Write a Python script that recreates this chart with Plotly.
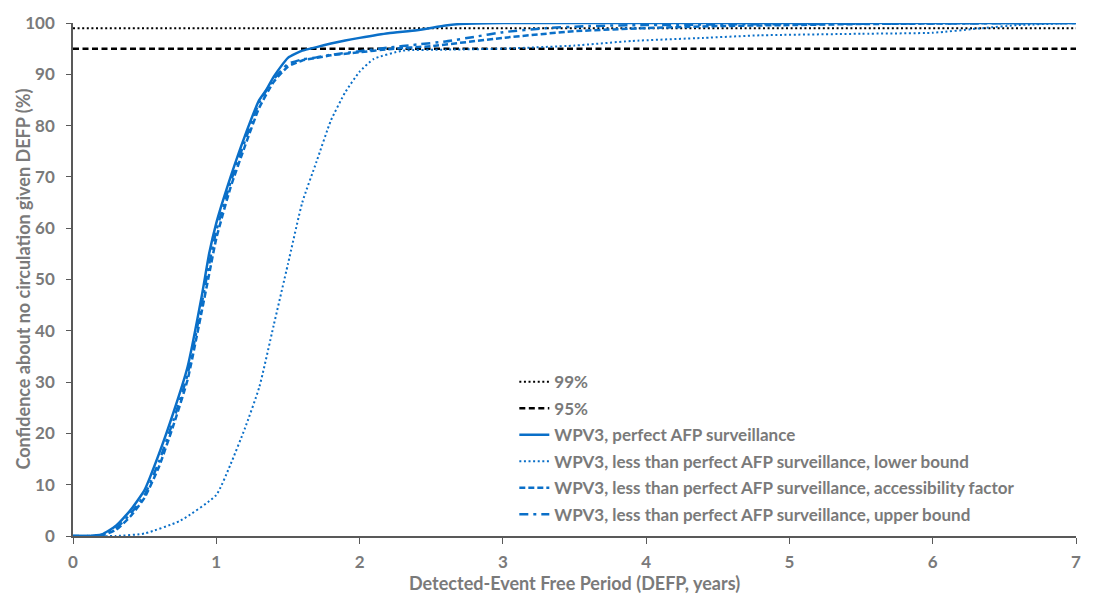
import plotly.graph_objects as go

# ---------------- data ----------------
ref_x = [0, 7]
ref99 = [99, 99]
ref95 = [95, 95]

perfect_x = [0, 0.1, 0.2, 0.3, 0.4, 0.5, 0.6, 0.7, 0.8, 0.9, 0.95, 1.0, 1.1, 1.2, 1.3, 1.35, 1.4,
             1.5, 1.6, 1.7, 1.8, 1.9, 2.0, 2.2, 2.4, 2.6, 2.7, 3, 4, 5, 6, 7]
perfect_y = [0, 0, 0.3, 2, 5, 9, 16, 24, 33, 47, 55, 61, 70, 78, 85, 87, 89.5,
             93.2, 94.6, 95.3, 96, 96.6, 97.1, 98, 98.6, 99.5, 99.8, 100, 100, 100, 100, 100]

lower_x = [0, 0.3, 0.5, 0.75, 1.0, 1.1, 1.2, 1.3, 1.4, 1.5, 1.6, 1.7, 1.8, 1.9, 2.0, 2.1,
           2.3, 2.6, 3.0, 3.5, 3.9, 4.4, 4.8, 5.5, 6.0, 6.35, 6.6, 7]
lower_y = [0, 0, 0.5, 3, 8, 14, 21, 29, 41, 53, 65, 73, 81, 86.5, 90.5, 93,
           94.6, 94.8, 95, 95.6, 96.5, 97.1, 97.6, 97.9, 98.1, 99, 99.6, 100]

access_x = [0, 0.1, 0.2, 0.3, 0.4, 0.5, 0.6, 0.7, 0.8, 0.9, 0.95, 1.0, 1.1, 1.2, 1.3, 1.4, 1.5,
            1.6, 1.7, 1.8, 2.0, 2.2, 2.5, 3.0, 3.5, 4.0, 4.5, 5.0, 5.5, 6.0, 6.5, 7]
access_y = [0, 0, 0.1, 1.2, 3.8, 7.5, 13.5, 21.5, 30.5, 44, 51, 58, 68, 76, 83.5, 88.5, 91.5,
            92.7, 93.2, 93.7, 94.3, 94.9, 95.5, 97.1, 98.4, 99.0, 99.4, 99.6, 99.8, 99.9, 100, 100]

upper_x = [0, 0.1, 0.2, 0.3, 0.4, 0.5, 0.6, 0.7, 0.8, 0.9, 0.95, 1.0, 1.1, 1.2, 1.3, 1.4, 1.5,
           1.6, 1.7, 1.8, 2.0, 2.2, 2.4, 2.6, 2.8, 3.0, 3.3, 3.6, 4.0, 5.0, 6.0, 7]
upper_y = [0, 0, 0.2, 1.5, 4.3, 8, 14.5, 22.5, 31.5, 45.5, 53, 59.5, 69, 77, 84.5, 89, 92,
           92.9, 93.3, 93.8, 94.5, 95.2, 95.8, 96.4, 97.3, 98.2, 99, 99.4, 99.6, 99.8, 99.9, 100]

x_ticks = [0, 1, 2, 3, 4, 5, 6, 7]
y_ticks = [0, 10, 20, 30, 40, 50, 60, 70, 80, 90, 100]

names = ["99%", "95%", "WPV3, perfect AFP surveillance",
         "WPV3, less than perfect AFP surveillance, lower bound",
         "WPV3, less than perfect AFP surveillance, accessibility factor",
         "WPV3, less than perfect AFP surveillance, upper bound"]
x_title = "Detected-Event Free Period (DEFP, years)"
y_title = "Confidence about no circulation given DEFP (%)"

# ---------------- style ----------------
BLUE = "#0A6FC8"
GRAY = "#7A7A7A"
FONT = "Lato"

fig = go.Figure()
fig.add_trace(go.Scatter(x=ref_x, y=ref99, mode="lines", name=names[0], legendgroup="a",
                         line=dict(color="black", width=2, dash="2px,2.6px")))
fig.add_trace(go.Scatter(x=ref_x, y=ref95, mode="lines", name=names[1], legendgroup="b",
                         line=dict(color="black", width=2.5, dash="6px,3.5px")))
fig.add_trace(go.Scatter(x=perfect_x, y=perfect_y, mode="lines", name=names[2], legendgroup="c",
                         line=dict(color=BLUE, width=2.5, shape="spline", smoothing=0.5)))
fig.add_trace(go.Scatter(x=lower_x, y=lower_y, mode="lines", name=names[3], legendgroup="d",
                         line=dict(color=BLUE, width=2, dash="2px,2.6px", shape="spline", smoothing=0.5)))
fig.add_trace(go.Scatter(x=access_x, y=access_y, mode="lines", name=names[4], legendgroup="e",
                         line=dict(color=BLUE, width=2.5, dash="6px,3px", shape="spline", smoothing=0.5)))
fig.add_trace(go.Scatter(x=upper_x, y=upper_y, mode="lines", name=names[5], legendgroup="f",
                         line=dict(color=BLUE, width=2.5, dash="9px,5px,3px,5px", shape="spline", smoothing=0.5)))

fig.update_layout(
    width=1105, height=600,
    margin=dict(l=73, r=29, t=16, b=64),
    paper_bgcolor="white", plot_bgcolor="white",
    font=dict(family=FONT, color=GRAY, size=16, weight="bold"),
    showlegend=True,
    legend=dict(x=0.44, y=0.335, xanchor="left", yanchor="top",
                bgcolor="rgba(0,0,0,0)", font=dict(size=17, color=GRAY, family=FONT, weight="bold"),
                itemwidth=30, tracegroupgap=1.4),
    xaxis=dict(range=[0, 7], tickvals=x_ticks, ticks="outside", ticklen=6, tickcolor="#595959",
               showline=True, linecolor="#595959", linewidth=1.5, showgrid=False, zeroline=False,
               tickfont=dict(size=17), ticklabelstandoff=4),
    yaxis=dict(range=[0, 100], tickvals=y_ticks, ticks="outside", ticklen=5, tickcolor="#595959",
               showline=True, linecolor="#595959", linewidth=1.5, showgrid=False, zeroline=False,
               tickfont=dict(size=17), ticklabelstandoff=8),
    annotations=[
        dict(text=x_title, xref="paper", yref="paper", x=0.5, y=-0.0925, xanchor="center",
             yanchor="middle", showarrow=False, font=dict(size=18, color=GRAY, family=FONT, weight="bold")),
        dict(text=y_title, xref="paper", yref="paper", x=-0.0508, y=0.5, xanchor="center",
             yanchor="middle", textangle=-90, showarrow=False,
             font=dict(size=18, color=GRAY, family=FONT, weight="bold")),
    ],
)

fig.write_html("out.html")
